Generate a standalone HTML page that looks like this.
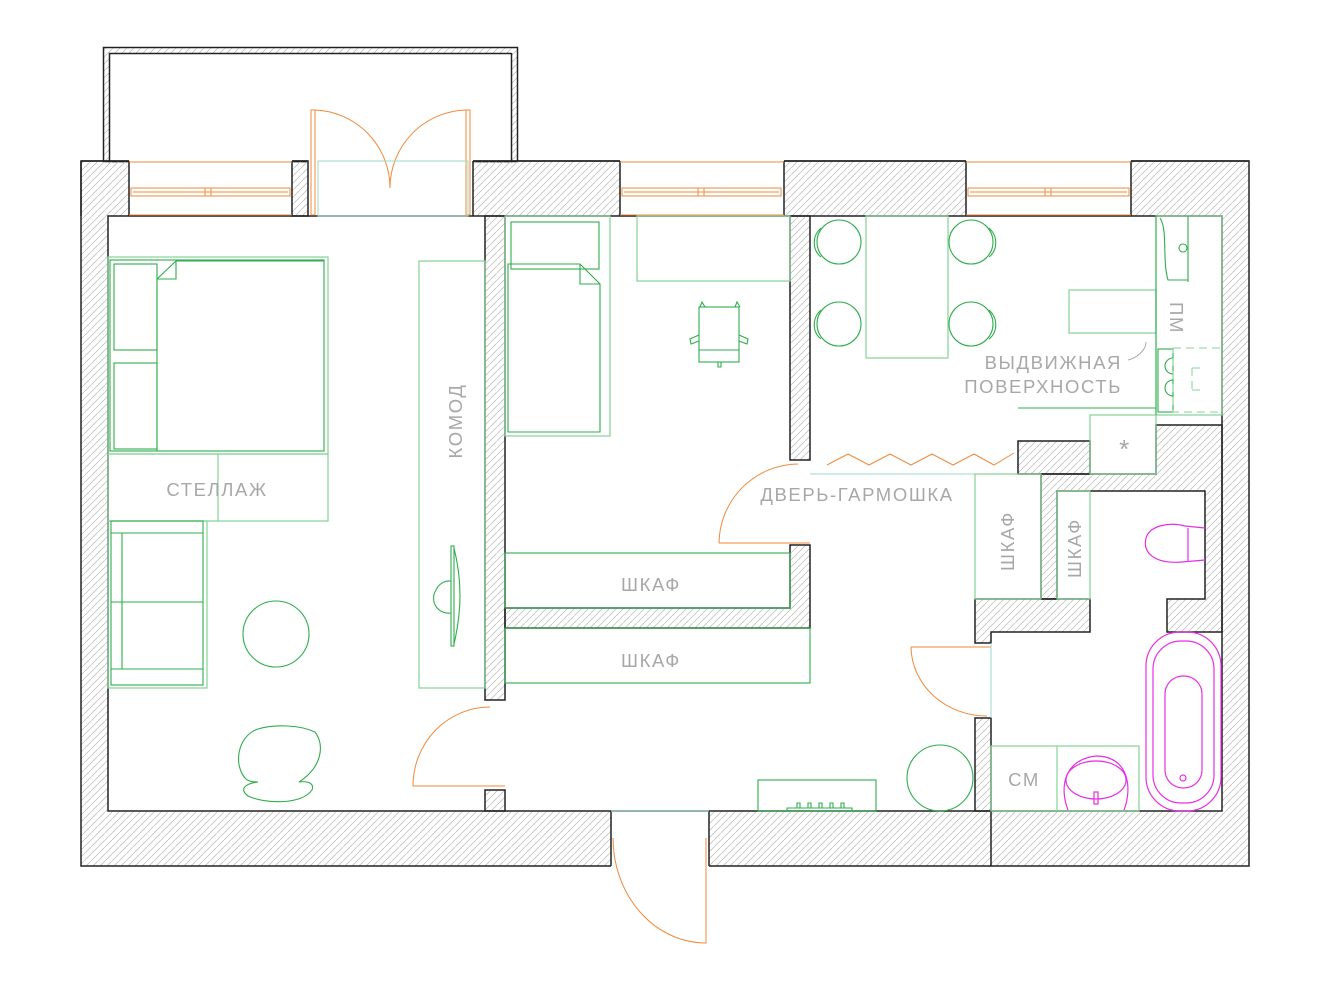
<!DOCTYPE html>
<html><head><meta charset="utf-8"><style>
html,body{margin:0;padding:0;background:#fff}
svg{display:block}
text{font-family:"Liberation Sans",sans-serif;fill:#a8a8a8;font-size:18.5px;letter-spacing:1.6px}
</style></head><body>
<svg width="1332" height="1000" viewBox="0 0 1332 1000" xmlns="http://www.w3.org/2000/svg">
<defs>
<pattern id="h" width="7" height="7" patternUnits="userSpaceOnUse">
<path d="M-1,8 L8,-1 M-2,1 L1,-2 M6,9 L9,6" stroke="#c4c4c4" stroke-width="0.9"/>
</pattern>
</defs>
<rect x="103.5" y="47.5" width="414" height="114" fill="url(#h)" stroke="#222" stroke-width="1.5"/>
<rect x="109.5" y="53.5" width="402" height="108" fill="#fff" stroke="#222" stroke-width="1.5"/>
<rect x="81" y="161" width="1168" height="705" fill="url(#h)" stroke="#222" stroke-width="1.5"/>
<rect x="129" y="160" width="163" height="57" fill="#fff"/>
<rect x="308" y="160" width="165" height="57" fill="#fff"/>
<rect x="620" y="160" width="164" height="57" fill="#fff"/>
<rect x="966" y="160" width="165" height="57" fill="#fff"/>
<rect x="611" y="810" width="98" height="57" fill="#fff"/>
<rect x="108" y="216" width="1114" height="595" fill="#fff" stroke="#222" stroke-width="1.5"/>
<g fill="none" stroke="#222" stroke-width="1.5">
<path d="M81,161 V216 M129,161 V216 M292,161 V216 H308 V161 H292 M473,161 V216 M620,161 V216 M784,161 V216 M966,161 V216 M1131,161 V216 M473,161 H620 M784,161 H966 M1131,161 H1249 M81,161 H129"/>
<path d="M611,811 V866 M709,811 V866 M991,811 V866"/>
</g>
<g fill="url(#h)" stroke="#222" stroke-width="1.5">
<rect x="485" y="216" width="20" height="484"/>
<rect x="485" y="790" width="20" height="21"/>
<rect x="790" y="216" width="20" height="244"/>
<polygon points="790,545 810,545 810,628 505,628 505,608 790,608"/>
<rect x="1018" y="441" width="72" height="33"/>
<polygon points="1041,474 1156,474 1156,425 1222,425 1222,632 1167,632 1167,599 1205,599 1205,491 1057,491 1057,599 1041,599"/>
<polygon points="975,599 1090,599 1090,632 991,632 991,643 975,643"/>
<rect x="975" y="718" width="16" height="93"/>
</g>
<g fill="none" stroke="#f08a3c" stroke-width="1">
<path d="M129,162 H292 M129,215 H292 M620,162 H784 M620,215 H784 M966,162 H1131 M966,215 H1131"/>
<rect x="131" y="188" width="159" height="8"/><path d="M133,192 H288 M205,188 V196 M211,188 V196"/>
<rect x="622" y="188" width="159" height="8"/><path d="M624,192 H779 M698,188 V196 M704,188 V196"/>
<rect x="968" y="188" width="161" height="8"/><path d="M970,192 H1127 M1045,188 V196 M1051,188 V196"/>
<rect x="311" y="110" width="4" height="105"/><rect x="466" y="110" width="4" height="105"/>
<path d="M315,110 A78,78 0 0 1 390,188 A78,78 0 0 1 466,110"/>
<path d="M413,786 H505 M413,786 A77,79 0 0 1 490,707"/>
<path d="M719,543 H810 M719,543 A80,80 0 0 1 798,464"/>
<path d="M911,647 H991 M911,647 A76,70 0 0 0 987,716"/>
<path d="M613,838 A93,105 0 0 0 706,943 V838"/>
<path d="M827,465 L848,454 L869,465 L890,454 L911,465 L932,454 L953,465 L974,454 L994,465 L1014,453"/>
</g>
<g fill="none" stroke="#9ad9c9" stroke-width="1">
<rect x="318" y="161" width="150" height="55"/>
<path d="M810,474 H1018 M611,811 H709 M991,643 V718 M991,749 V811"/>
</g>
<g fill="none" stroke="#85d397" stroke-width="1.2">
<rect x="108" y="257" width="220" height="197"/>
<rect x="108" y="454" width="220" height="67"/><path d="M218,454 V521"/>
<rect x="419" y="261" width="66" height="427"/>
<rect x="505" y="216" width="105" height="220"/>
<rect x="637" y="216" width="153" height="65"/>
<rect x="866" y="216" width="82" height="142"/>
<rect x="1069" y="290" width="87" height="43"/>
<rect x="1156" y="216" width="66" height="199"/>
<rect x="975" y="474" width="66" height="125"/>
<rect x="1057" y="491" width="33" height="108"/>
<rect x="1090" y="415" width="66" height="59"/>
<rect x="991" y="746" width="148" height="65"/><path d="M1057,746 V811"/>
<rect x="108" y="521" width="99" height="167"/>
</g>
<g fill="none" stroke="#2fae4c" stroke-width="1.1">
<rect x="110" y="260" width="214" height="191"/>
<rect x="114" y="264" width="43" height="86"/><rect x="114" y="363" width="43" height="86"/>
<path d="M157,451 V279 L176,261 H324 M157,279 H176 V261"/>
<rect x="111" y="521" width="92" height="164"/><path d="M111,533 H203 M111,602 H203 M111,669 H203 M122,533 V669"/>
<circle cx="276" cy="634" r="33"/>
<path d="M246,779 C233,766 237,736 258,729 C275,724 300,725 315,732 C325,745 322,767 299,782 C305,781 315,782 312,790 C302,805 265,804 248,796 C240,790 243,784 258,782 C252,782 248,781 246,779Z"/>
<rect x="451" y="546" width="3" height="100"/><path d="M436,590 A15,15 0 0 1 451,581 M436,590 A15,15 0 0 0 451,613 M454,548 C462,580 462,610 454,644"/>
<rect x="511" y="222" width="88" height="47"/>
<path d="M508,432 V264 H580 L600,284 V432 Z M580,264 V284 H600"/>
<rect x="699" y="307" width="40" height="55"/><path d="M699,350 H739 M700,307 L702,302 L705,307 M735,307 L737,302 L740,307 M699,335 L690,339 L691,344 L699,341 M739,335 L748,339 L747,344 L739,341 M718,362 V367 H721 V362"/>
<rect x="505" y="553" width="285" height="55"/>
<rect x="505" y="628" width="305" height="55"/>
<circle cx="839" cy="242" r="22"/><circle cx="971" cy="242" r="22"/>
<circle cx="839" cy="324" r="22"/><circle cx="971" cy="324" r="22"/>
<path d="M821,228 C812,236 812,250 821,257 M989,228 C998,236 998,250 989,257 M821,310 C812,318 812,332 821,339 M989,310 C998,318 998,332 989,339"/>
<path d="M1018,408 H1156 M1156,216 V415"/>
<path d="M1160,218 C1168,230 1162,260 1168,280 H1188 V218 M1188,216 V282"/>
<circle cx="1183" cy="248" r="4"/>
<rect x="1158" y="349" width="15" height="63"/>
<path d="M1173,358 A8,8 0 0 0 1173,374 M1173,380 A8,8 0 0 0 1173,396"/>
<circle cx="940" cy="778" r="33"/>
<rect x="758" y="780" width="118" height="31"/>
<path d="M787,811 V808 H852 V811 M797,808 V803 H800 V808 M808,808 V803 H811 V808 M819,808 V803 H822 V808 M830,808 V803 H833 V808 M841,808 V803 H844 V808"/>
</g>
<g fill="none" stroke="#85d397" stroke-width="1" stroke-dasharray="8,5">
<rect x="1173" y="348" width="49" height="64"/>
<path d="M1192,368 V390 M1192,368 H1205 M1192,390 H1205"/>
</g>
<g fill="none" stroke="#e630e6" stroke-width="1.2">
<path d="M1205,528 L1185,526 C1170,522 1150,525 1146,538 C1142,555 1158,564 1182,562 L1205,560"/>
<path d="M1188,528 V561"/>
<rect x="1146" y="632" width="75" height="179" rx="34"/>
<rect x="1153" y="641" width="61" height="162" rx="28"/>
<rect x="1165" y="676" width="37" height="112" rx="18"/>
<circle cx="1183" cy="778" r="3"/>
<path d="M1068,810 C1060,790 1062,760 1096,756 C1130,756 1132,790 1124,810"/>
<ellipse cx="1096" cy="780" rx="30" ry="19"/>
<rect x="1094" y="792" width="4" height="12"/>
</g>
<text x="217" y="496" text-anchor="middle">СТЕЛЛАЖ</text>
<text transform="translate(462,421) rotate(-90)" text-anchor="middle">КОМОД</text>
<text x="651" y="591" text-anchor="middle">ШКАФ</text>
<text x="651" y="667" text-anchor="middle">ШКАФ</text>
<text x="857" y="501" text-anchor="middle">ДВЕРЬ-ГАРМОШКА</text>
<text x="1122" y="369" text-anchor="end">ВЫДВИЖНАЯ</text>
<text x="1122" y="393" text-anchor="end">ПОВЕРХНОСТЬ</text>
<path d="M1128,360 C1137,358 1146,350 1146,342" fill="none" stroke="#aaa"/>
<text transform="translate(1170,318) rotate(90)" text-anchor="middle">ПМ</text>
<text x="1125" y="458" text-anchor="middle" style="font-size:26px">*</text>
<text transform="translate(1014,541) rotate(-90)" text-anchor="middle">ШКАФ</text>
<text transform="translate(1081,548) rotate(-90)" text-anchor="middle">ШКАФ</text>
<text x="1024" y="786" text-anchor="middle">СМ</text>
</svg>
</body></html>
